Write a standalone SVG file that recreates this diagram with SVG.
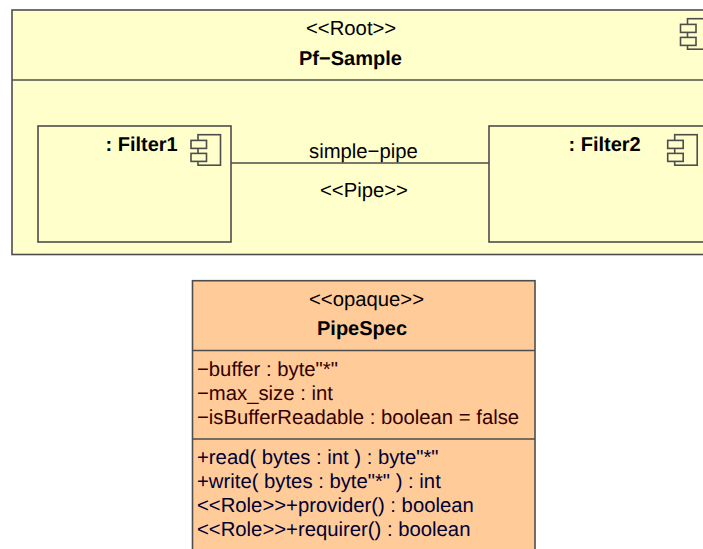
<svg xmlns="http://www.w3.org/2000/svg" width="703" height="549" viewBox="0 0 703 549">
<style>
text{font-family:"Liberation Sans",Arial,sans-serif;font-size:20.3px;fill:#000;text-rendering:geometricPrecision}
.b{font-weight:bold;font-size:20px}
.a{fill:#330000}
.o{fill:#000033}
.s{stroke:#4d4d4d;stroke-width:1.6;fill:none}
.y{fill:#ffffcc;stroke:#4d4d4d;stroke-width:1.6}
.p{fill:#ffcc99;stroke:#4d4d4d;stroke-width:1.6}
</style>
<defs>
<g id="icon"><rect class="y" x="7" y="0" width="22.5" height="30.5"/><rect class="y" x="0" y="5.7" width="15.5" height="8"/><rect class="y" x="0" y="18.7" width="15.5" height="8"/></g>
</defs>
<g id="root">
<rect class="y" x="12" y="10" width="720" height="244.500"/>
<line class="s" x1="12" y1="80" x2="703" y2="80"/>
<text x="306" y="35">&lt;&lt;Root&gt;&gt;</text>
<text class="b" x="299" y="65">Pf−Sample</text>
<use href="#icon" x="680.500" y="18.700"/>
</g>
<g id="connectors">
<line class="s" x1="231" y1="163" x2="489" y2="163"/>
<text x="309" y="158">simple−pipe</text>
<text x="320" y="197">&lt;&lt;Pipe&gt;&gt;</text>
</g>
<g id="filter1">
<rect class="y" x="38" y="126" width="193" height="116"/>
<text class="b" x="105.500" y="151">: Filter1</text>
<use href="#icon" x="191" y="134.700"/>
</g>
<g id="filter2">
<rect class="y" x="489" y="126" width="240" height="116"/>
<text class="b" x="568.500" y="151">: Filter2</text>
<use href="#icon" x="667.700" y="134.700"/>
</g>
<g id="pipespec">
<rect class="p" x="192.500" y="280.700" width="342.500" height="290"/>
<line class="s" x1="192.500" y1="350.500" x2="535" y2="350.500"/>
<line class="s" x1="192.500" y1="439" x2="535" y2="439"/>
<text x="309" y="306">&lt;&lt;opaque&gt;&gt;</text>
<text class="b" x="317" y="335">PipeSpec</text>
<text class="a" x="197" y="376">−buffer : byte"*"</text>
<text class="a" x="197" y="400">−max_size : int</text>
<text class="a" x="197" y="424">−isBufferReadable : boolean = false</text>
<text class="o" x="197" y="464">+read( bytes : int ) : byte"*"</text>
<text class="o" x="197" y="488">+write( bytes : byte"*" ) : int</text>
<text class="o" x="197" y="512">&lt;&lt;Role&gt;&gt;+provider() : boolean</text>
<text class="o" x="197" y="536">&lt;&lt;Role&gt;&gt;+requirer() : boolean</text>
</g>
</svg>
